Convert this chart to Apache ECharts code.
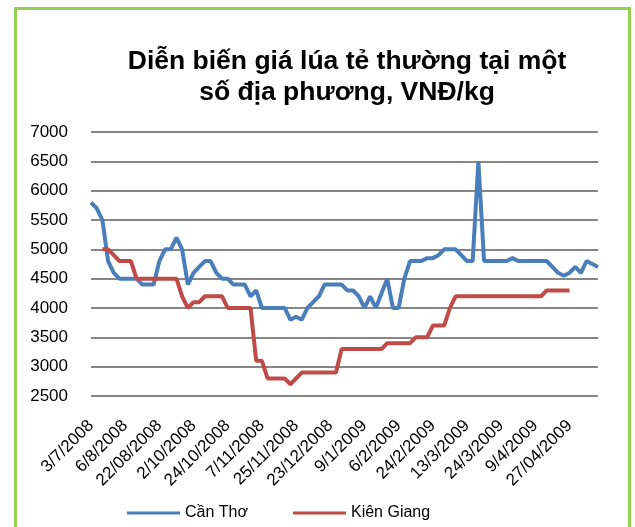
<!DOCTYPE html>
<html>
<head>
<meta charset="utf-8">
<script src="https://cdn.jsdelivr.net/npm/echarts@6/dist/echarts.min.js"></script>
<style>html,body{margin:0;padding:0;background:#fff}#c{width:635px;height:527px}</style>
</head>
<body>
<div id="c"></div>
<script>
// Tick labels shown every 6th category
const tickLabels = ["3/7/2008","6/8/2008","22/08/2008","2/10/2008","24/10/2008","7/11/2008","25/11/2008","23/12/2008","9/1/2009","6/2/2009","24/2/2009","13/3/2009","24/3/2009","9/4/2009","27/04/2009"];
const labelEvery = 6;
const canTho = [5800,5700,5500,4800,4600,4500,4500,4500,4500,4400,
  4400,4400,4800,5000,5000,5200,5000,4400,4600,4700,
  4800,4800,4600,4500,4500,4400,4400,4400,4200,4300,
  4000,4000,4000,4000,4000,3800,3850,3800,4000,4100,
  4200,4400,4400,4400,4400,4300,4300,4200,4000,4200,
  4000,4250,4500,4000,4000,4500,4800,4800,4800,4850,
  4850,4900,5000,5000,5000,4900,4800,4800,6500,4800,
  4800,4800,4800,4800,4850,4800,4800,4800,4800,4800,
  4800,4700,4600,4550,4600,4700,4600,4800,4750,4700];
const kienGiang = [null,null,5000,5000,4900,4800,4800,4800,4500,4500,
  4500,4500,4500,4500,4500,4500,4200,4000,4100,4100,
  4200,4200,4200,4200,4000,4000,4000,4000,4000,3100,
  3100,2800,2800,2800,2800,2700,2800,2900,2900,2900,
  2900,2900,2900,2900,3300,3300,3300,3300,3300,3300,
  3300,3300,3400,3400,3400,3400,3400,3500,3500,3500,
  3700,3700,3700,4000,4200,4200,4200,4200,4200,4200,
  4200,4200,4200,4200,4200,4200,4200,4200,4200,4200,
  4300,4300,4300,4300,4300,null,null,null,null,null];
const categories = canTho.map((v, i) => (i % labelEvery === 0 && tickLabels[i / labelEvery]) ? tickLabels[i / labelEvery] : '');

const font = 'Liberation Sans, Arial, sans-serif';
const chart = echarts.init(document.getElementById('c'), null, {renderer: 'canvas'});
chart.setOption({
  animation: false,
  backgroundColor: '#fff',
  title: {
    text: 'Diễn biến giá lúa tẻ thường tại một\nsố địa phương, VNĐ/kg',
    left: 342, textAlign: 'center', top: 41,
    textStyle: {fontFamily: font, fontSize: 26.5, fontWeight: 'bold', color: '#000', lineHeight: 31}
  },
  graphic: [{
    type: 'rect', silent: true,
    shape: {x: 15.5, y: 8.5, width: 614, height: 560},
    style: {fill: 'none', stroke: '#92D050', lineWidth: 3}
  }],
  legend: {
    left: 122, top: 500, itemWidth: 53, itemHeight: 3, itemGap: 45,
    icon: 'rect',
    textStyle: {fontFamily: font, fontSize: 16, color: '#000', padding: [0,0,0,0]},
    data: ['Cần Thơ', 'Kiên Giang']
  },
  grid: {left: 91, right: 37, top: 132, bottom: 131, containLabel: false},
  xAxis: {
    type: 'category', data: categories, boundaryGap: false,
    axisLine: {show: false}, axisTick: {show: false},
    axisLabel: {interval: 0, rotate: 45, margin: 27, fontFamily: font, fontSize: 17, color: '#000'},
    splitLine: {show: false}
  },
  yAxis: {
    type: 'value', min: 2500, max: 7000, interval: 500,
    axisLine: {show: false}, axisTick: {show: false},
    axisLabel: {margin: 23, fontFamily: font, fontSize: 17, color: '#000', formatter: v => String(v)},
    splitLine: {lineStyle: {color: '#868686', width: 2}}
  },
  series: [
    {name: 'Cần Thơ', type: 'line', data: canTho, symbol: 'none', smooth: false,
     lineStyle: {color: '#4A7EBB', width: 4}, itemStyle: {color: '#4A7EBB'}},
    {name: 'Kiên Giang', type: 'line', data: kienGiang, symbol: 'none', smooth: false,
     lineStyle: {color: '#BE4B48', width: 4}, itemStyle: {color: '#BE4B48'}}
  ]
});
</script>
</body>
</html>
